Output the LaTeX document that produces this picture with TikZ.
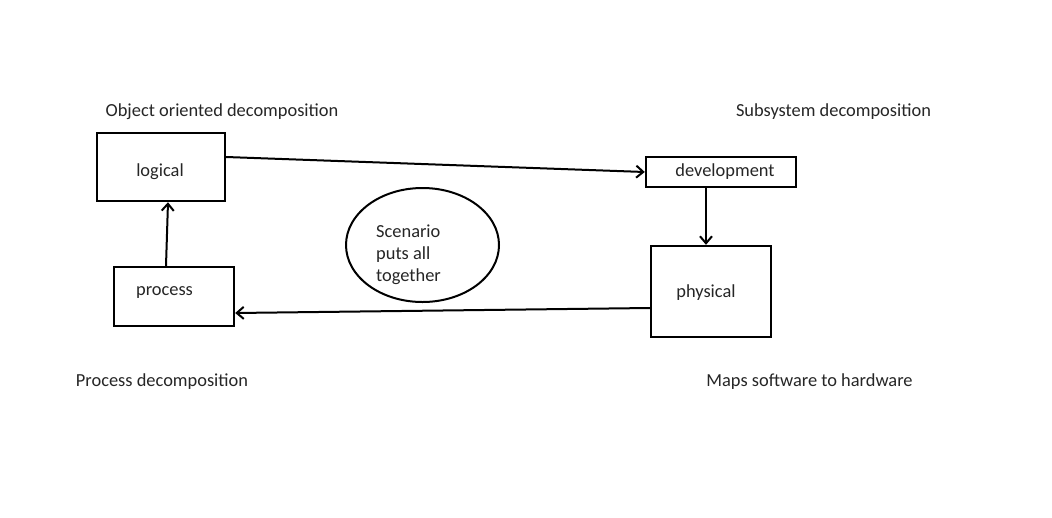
\documentclass[tikz,border=0pt]{standalone}
\usepackage{fontspec}
\setmainfont{Carlito}
\usetikzlibrary{arrows.meta,shapes.geometric}
\begin{document}
\begin{tikzpicture}[x=1pt,y=-1pt,
  box/.style={draw,line width=2.4pt,inner sep=0pt,rectangle},
  txt/.style={inner sep=0pt,font=\fontsize{18.4}{22}\selectfont,text=black!85},
  conn/.style={line width=2pt,-{Straight Barb[length=7pt,width=12pt,line width=2pt]}}]
\useasboundingbox[fill=white] (0,0) rectangle (1052,517);
% boxes
\node[box,minimum width=128pt,minimum height=68pt] (logical) at (161,167) {};
\node[box,minimum width=150pt,minimum height=30pt] (development) at (721,172) {};
\node[box,minimum width=120pt,minimum height=59pt] (process) at (174,296.5) {};
\node[box,minimum width=120pt,minimum height=91pt] (physical) at (711,291.5) {};
\node[draw,ellipse,line width=2pt,minimum width=153pt,minimum height=114pt,inner sep=0pt] (scenario) at (422.5,245) {};
% box texts
\node[txt] (tlogical) at (160,171.5) {logical};
\node[txt] (tdevelopment) at (725,171.5) {development};
\node[txt] (tprocess) at (164.5,292.5) {process};
\node[txt] (tphysical) at (706,292.5) {physical};
\node[txt,anchor=west,align=left] (tscenario) at (376,254.5) {Scenario\\puts all\\together};
% labels
\node[txt] (lobject) at (222,111.5) {Object oriented decomposition};
\node[txt] (lsubsystem) at (833.5,111.5) {Subsystem decomposition};
\node[txt] (lprocess) at (162,381.5) {Process decomposition};
\node[txt] (lmaps) at (809.5,381.5) {Maps software to hardware};
% connectors
\draw[conn] ([yshift=10pt]logical.east) -- (development.west);
\draw[conn] ([xshift=-15pt]development.south) -- ([xshift=-15pt]development.south |- physical.north);
\draw[conn] ([yshift=-16.5pt]physical.west) -- ([yshift=-16.5pt]process.east);
\draw[conn] ([xshift=-8pt]process.north) -- ([xshift=7pt]logical.south);
\end{tikzpicture}
\end{document}
